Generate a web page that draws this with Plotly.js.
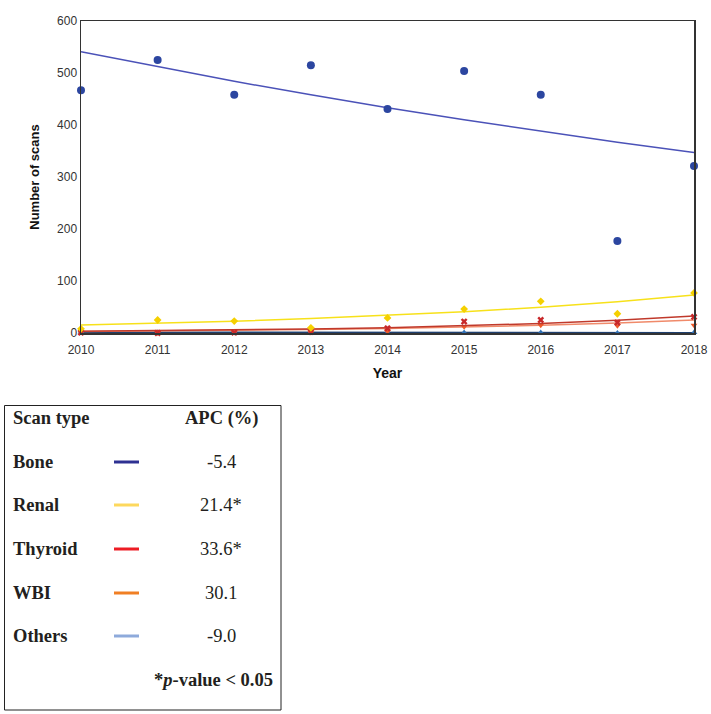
<!DOCTYPE html>
<html>
<head>
<meta charset="utf-8">
<script src="https://cdn.plot.ly/plotly-3.0.1.min.js"></script>
<style>html,body{margin:0;padding:0;background:#fff;}#chart{width:711px;height:714px;}</style>
</head>
<body>
<div id="chart"></div>
<script>
// ---- Data ----
const years = [2010, 2011, 2012, 2013, 2014, 2015, 2016, 2017, 2018];
const bone = [467, 525, 458, 515, 431, 504, 458, 177, 321];
const renal = [8, 25, 23, 10, 29, 46, 61, 37, 77];
const thyroid = [1, 0, 1, 2, 9, 22, 25, 20, 31];
const wbi = [1, 0, 1, 1, 3, 12, 15, 14, 15];
const others = [2, 1, 1, 1, 1, 1, 1, 0, 1];
const boneFit = [541, 512, 484, 458, 433, 410, 388, 367, 347];
const renalFit = [15.5, 18.8, 22.8, 27.7, 33.6, 40.8, 49.6, 60.2, 73];
const thyroidFit = [3.2, 4.3, 5.7, 7.6, 10.2, 13.6, 18.2, 24.3, 32.5];
const wbiFit = [3.0, 4.0, 5.2, 6.7, 8.8, 11.4, 14.8, 19.3, 25];
const othersFit = [1.5, 1.4, 1.2, 1.1, 1.0, 0.9, 0.85, 0.8, 0.7];
const scanTypes = ["Bone", "Renal", "Thyroid", "WBI", "Others"];
const apcLabels = ["-5.4", "21.4*", "33.6*", "30.1", "-9.0"];
const legendColors = ["#2e3192", "#fdd85d", "#ed1c24", "#f07f24", "#8eaadb"];

// ---- Layout helpers (pixel -> paper) ----
const L = 81, R = 694, T = 21, B = 333;
const px = x => (x - L) / (R - L);
const py = y => (B - y) / (B - T);

function fitTrace(y, color) {
  return {x: years, y: y, mode: 'lines', line: {color: color, width: 1.5}, hoverinfo: 'skip', cliponaxis: false};
}
function ptTrace(y, color, symbol, size) {
  return {x: years, y: y, mode: 'markers', marker: {color: color, symbol: symbol, size: size}, cliponaxis: false};
}

const traces = [
  fitTrace(othersFit, '#1f3f6e'),
  ptTrace(others, '#2f6fb5', 'triangle-up', 6),
  fitTrace(wbiFit, '#f08a6a'),
  ptTrace(wbi, '#ee5a2a', 'triangle-down', 6),
  fitTrace(thyroidFit, '#c0392b'),
  ptTrace(thyroid, '#c8282a', 'x', 6),
  fitTrace(renalFit, '#f7e11a'),
  ptTrace(renal, '#f5d000', 'diamond', 6),
  fitTrace(boneFit, '#4b52b8'),
  ptTrace(bone, '#2c46a0', 'circle', 8)
];

const serif = 'Liberation Serif, Times New Roman, serif';
const annotations = [
  {x: px(11), y: py(418), text: '<b>Scan type</b>', xanchor: 'left'},
  {x: px(221), y: py(418), text: '<b>APC (%)</b>', xanchor: 'center'},
  {x: px(275), y: py(680), text: '<b>*<i>p</i>-value &lt; 0.05</b>', xanchor: 'right'}
];
const shapes = [
  {type: 'rect', xref: 'paper', yref: 'paper', x0: px(4.5), x1: px(281), y0: py(405.5), y1: py(710), line: {color: '#222', width: 1}}
];
const rowY = [462, 505, 549, 593, 636];
scanTypes.forEach((s, i) => {
  annotations.push({x: px(11), y: py(rowY[i]), text: '<b>' + s + '</b>', xanchor: 'left'});
  annotations.push({x: px(221), y: py(rowY[i]), text: apcLabels[i], xanchor: 'center'});
  shapes.push({type: 'line', xref: 'paper', yref: 'paper', x0: px(114), x1: px(139), y0: py(rowY[i]), y1: py(rowY[i]), line: {color: legendColors[i], width: 3}});
});
annotations.forEach(a => {
  a.xref = 'paper'; a.yref = 'paper'; a.showarrow = false; a.yanchor = 'middle';
  a.font = {family: serif, size: 18.5, color: '#231f20'};
});

const layout = {
  width: 711, height: 714,
  margin: {l: L, r: 711 - R, t: T, b: 714 - B},
  paper_bgcolor: '#fff', plot_bgcolor: '#fff',
  showlegend: false,
  font: {family: 'Liberation Sans, Arial, sans-serif', color: '#333'},
  xaxis: {
    range: [2010, 2018], tickvals: years, ticktext: years.map(String),
    showgrid: false, zeroline: false, showline: true, linecolor: '#333', linewidth: 1.5, mirror: true,
    ticks: 'outside', ticklen: 5, tickcolor: 'rgba(0,0,0,0)', tickfont: {size: 12, color: '#333'},
    title: {text: '<b>Year</b>', font: {size: 14, color: '#111'}, standoff: 12}
  },
  yaxis: {
    range: [0, 600], tickvals: [0, 100, 200, 300, 400, 500, 600],
    showgrid: false, zeroline: false, showline: true, linecolor: '#333', linewidth: 1.5, mirror: true,
    ticks: '', tickfont: {size: 12, color: '#333'},
    title: {text: '<b>Number of scans</b>', font: {size: 13, color: '#111'}, standoff: 14}
  },
  annotations: annotations,
  shapes: shapes
};

Plotly.newPlot('chart', traces, layout, {displayModeBar: false, staticPlot: true});
</script>
</body>
</html>
